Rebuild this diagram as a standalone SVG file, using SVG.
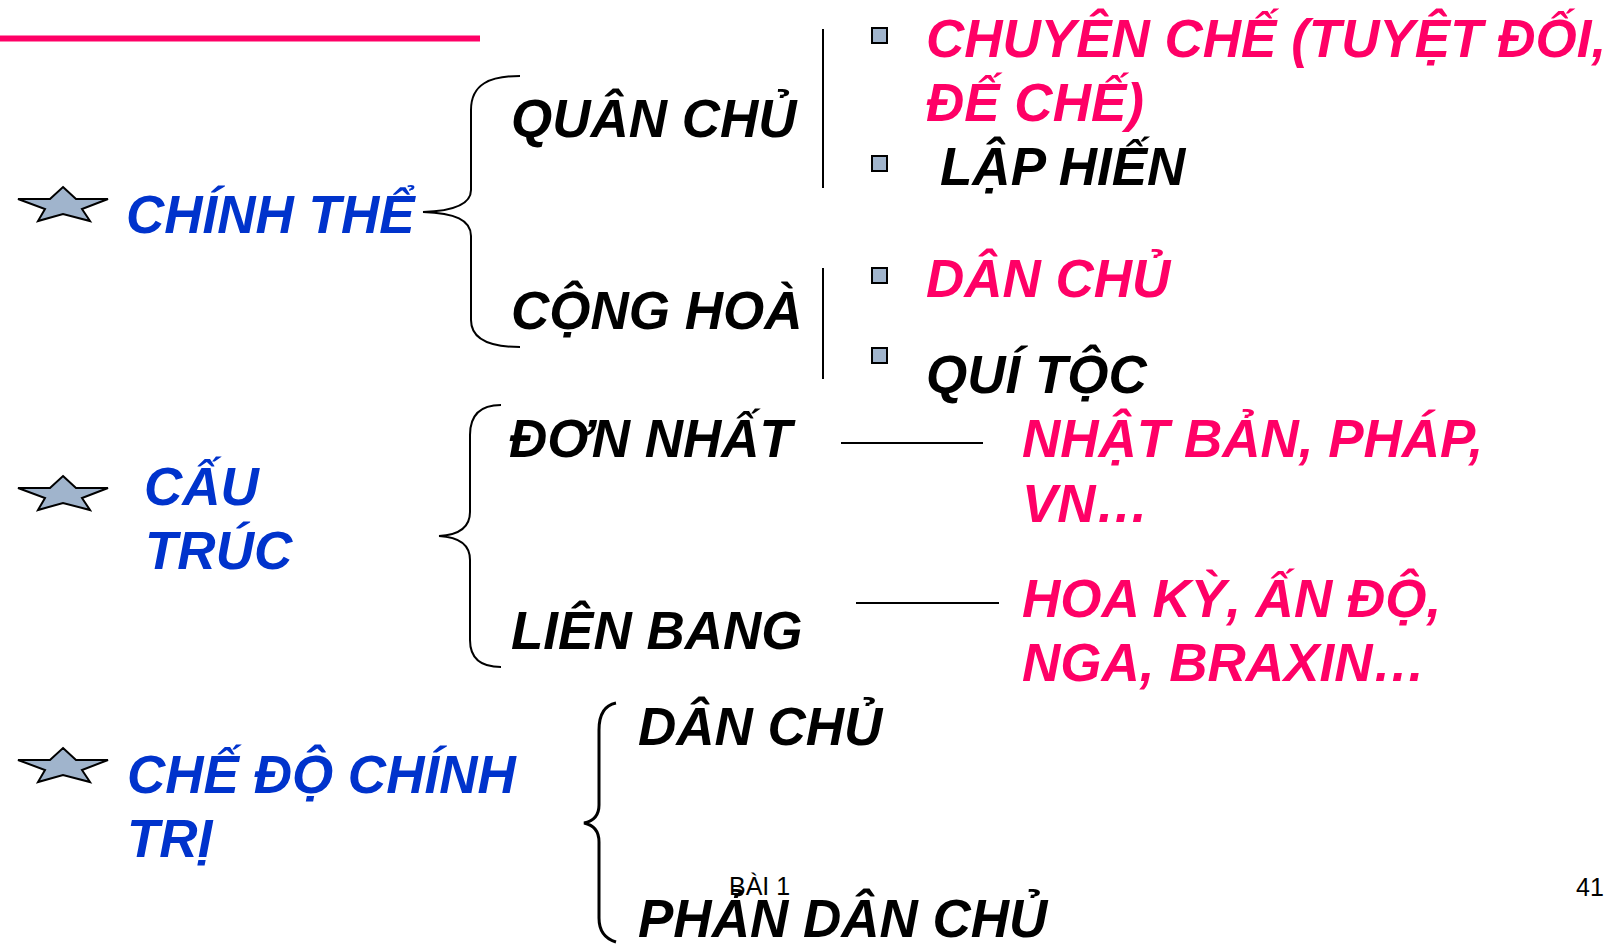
<svg xmlns="http://www.w3.org/2000/svg" width="1614" height="945" viewBox="0 0 1614 945">
<style>
.t{font-family:"Liberation Sans",Arial,sans-serif;font-weight:bold;font-style:italic;font-size:53px}
.blue{fill:#0033CC}
.pink{fill:#FF0066}
.blk{fill:#000000}
.small{font-family:"Liberation Sans",Arial,sans-serif;font-size:25px;fill:#000}
.br{fill:none;stroke:#000;stroke-width:2}
.ln{stroke:#000;stroke-width:2}
.bul{fill:#A0B4CC;stroke:#000;stroke-width:2}
.star{fill:#A0B4CC;stroke:#000;stroke-width:2;stroke-linejoin:miter}
</style>
<defs>
<path id="starShape" class="star" d="M63,187 L76,199 L108,199 L82,209 L90,221 L63,214 L38,221 L45,209 L18,199 L50,199 Z"/>
<rect id="sq" class="bul" x="0" y="0" width="15" height="15"/>
</defs>
<rect width="1614" height="945" fill="#fff"/>
<line x1="0" y1="38.5" x2="480" y2="38.5" stroke="#FF0066" stroke-width="6"/>

<g id="connectors">
<path class="br" d="M520,76 C490,76 471,84 471,110 L471,190 C471,204 455,211 423,212 C455,213 471,220 471,236 L471,320 C471,340 490,347 520,347"/>
<line class="ln" x1="823" y1="29" x2="823" y2="188"/>
<line class="ln" x1="823" y1="268" x2="823" y2="379"/>
<path class="br" d="M501,405 C482,405 470,414 470,435 L470,512 C470,528 458,535 439,536 C458,537 470,544 470,560 L470,640 C470,660 482,667 501,667"/>
<line class="ln" x1="841" y1="443" x2="983" y2="443"/>
<line class="ln" x1="856" y1="603" x2="999" y2="603"/>
<path class="br" style="stroke-width:3" d="M616,703 C606,705 599,712 599,730 L599,805 C599,815 594,821 584,823 C594,825 599,831 599,842 L599,918 C599,932 606,939 616,942"/>
</g>

<g id="chinh-the">
<use href="#starShape"/>
<text class="t blue" x="126" y="233">CHÍNH THỂ</text>
</g>
<g id="quan-chu"><text class="t blk" x="511" y="137">QUÂN CHỦ</text></g>
<g id="cong-hoa"><text class="t blk" x="511" y="329">CỘNG HOÀ</text></g>
<g id="chuyen-che">
<use href="#sq" x="872" y="28"/>
<text class="t pink" x="926" y="57">CHUYÊN CHẾ (TUYỆT ĐỐI,</text>
<text class="t pink" x="926" y="121">ĐẾ CHẾ)</text>
</g>
<g id="lap-hien">
<use href="#sq" x="872" y="156"/>
<text class="t blk" x="940" y="185">LẬP HIẾN</text>
</g>
<g id="dan-chu-1">
<use href="#sq" x="872" y="268"/>
<text class="t pink" x="926" y="297">DÂN CHỦ</text>
</g>
<g id="qui-toc">
<use href="#sq" x="872" y="348"/>
<text class="t blk" x="926" y="393">QUÍ TỘC</text>
</g>

<g id="cau-truc">
<use href="#starShape" y="289"/>
<text class="t blue" x="144" y="505">CẤU</text>
<text class="t blue" x="145" y="569">TRÚC</text>
</g>
<g id="don-nhat"><text class="t blk" x="509" y="457">ĐƠN NHẤT</text></g>
<g id="lien-bang"><text class="t blk" x="511" y="649">LIÊN BANG</text></g>
<g id="nhat-ban">
<text class="t pink" x="1022" y="457">NHẬT BẢN, PHÁP,</text>
<text class="t pink" x="1022" y="522">VN…</text>
</g>
<g id="hoa-ky">
<text class="t pink" x="1022" y="617">HOA KỲ, ẤN ĐỘ,</text>
<text class="t pink" x="1022" y="681">NGA, BRAXIN…</text>
</g>

<g id="che-do">
<use href="#starShape" y="561"/>
<text class="t blue" x="127" y="793">CHẾ ĐỘ CHÍNH</text>
<text class="t blue" x="127" y="857">TRỊ</text>
</g>
<g id="dan-chu-2"><text class="t blk" x="638" y="745">DÂN CHỦ</text></g>
<g id="phan-dan-chu"><text class="t blk" x="638" y="937">PHẢN DÂN CHỦ</text></g>

<text class="small" x="729" y="895">BÀI 1</text>
<text class="small" x="1576" y="896">41</text>
</svg>
